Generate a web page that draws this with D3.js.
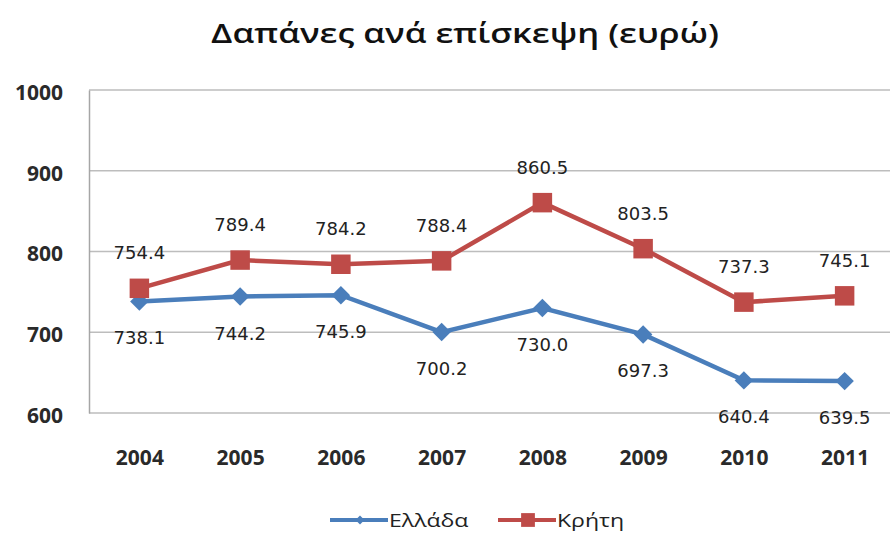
<!DOCTYPE html>
<html>
<head>
<meta charset="utf-8">
<script src="https://cdn.jsdelivr.net/npm/d3@7"></script>
<style>
  body { margin: 0; background: #fff; }
  svg { display: block; }
</style>
</head>
<body>
<svg width="890" height="536"></svg>
<script>
// chart data
var years = ["2004", "2005", "2006", "2007", "2008", "2009", "2010", "2011"]
var greece = [738.1, 744.2, 745.9, 700.2, 730.0, 697.3, 640.4, 639.5]
var crete = [754.4, 789.4, 784.2, 788.4, 860.5, 803.5, 737.3, 745.1]
var yTicks = [600, 700, 800, 900, 1000]
var seriesNames = ["Ελλάδα", "Κρήτη"]

var svg = d3.select("svg"),
    width = +svg.attr("width"),
    height = +svg.attr("height")

var margin = {top: 90, left: 89, right: 895, bottom: 413}
// the source picture is a bit wider than tall, text is stretched to match
var stretch = 1.28

var x = d3.scalePoint()
    .domain(years)
    .range([margin.left, margin.right])
    .padding(0.5)

var y = d3.scaleLinear()
    .domain([600, 1000])
    .range([margin.bottom, margin.top])

var colors = d3.scaleOrdinal()
    .domain(seriesNames)
    .range(["#4a7ebb", "#be4b48"])

// diamond as a rotated square (area = size)
var diamond = {
  draw: function(context, size) {
    var r = Math.sqrt(size / 2)
    context.moveTo(0, -r)
    context.lineTo(r, 0)
    context.lineTo(0, r)
    context.lineTo(-r, 0)
    context.closePath()
  }
}

function stretchText(sel) {
  sel.each(function() {
    var len = this.getComputedTextLength()
    d3.select(this)
      .attr("textLength", len * stretch)
      .attr("lengthAdjust", "spacingAndGlyphs")
  })
}

// title
svg.append("text")
    .attr("x", 465)
    .attr("y", 43)
    .attr("text-anchor", "middle")
    .style("font-family", "'Open Sans', 'Noto Sans', sans-serif")
    .style("font-size", "27px")
    .style("font-weight", "600")
    .style("fill", "#111")
    .text("Δαπάνες ανά επίσκεψη (ευρώ)")
    .call(stretchText)

// gridlines
svg.append("g")
    .selectAll("line")
    .data(yTicks)
    .enter()
    .append("line")
    .attr("x1", margin.left)
    .attr("x2", margin.right)
    .attr("y1", function(d) { return y(d) })
    .attr("y2", function(d) { return y(d) })
    .attr("stroke", "#bdbdbd")
    .attr("stroke-width", 1.5)

// y axis
var yAxis = svg.append("g")
    .attr("transform", "translate(" + margin.left + ",0)")
    .call(d3.axisLeft(y).tickValues(yTicks).tickFormat(d3.format("d")).tickSize(0).tickPadding(26))
yAxis.select(".domain").attr("stroke", "#a6a6a6").attr("stroke-width", 1.5)
yAxis.selectAll("text")
    .attr("dy", "0.45em")
    .style("font-family", "'Open Sans', sans-serif")
    .style("font-size", "21px")
    .style("font-weight", "bold")
    .style("fill", "#2a2a2a")

// x axis
var xAxis = svg.append("g")
    .attr("transform", "translate(0," + margin.bottom + ")")
    .call(d3.axisBottom(x).tickSize(0).tickPadding(37))
xAxis.select(".domain").remove()
xAxis.selectAll("text")
    .style("font-family", "'Open Sans', sans-serif")
    .style("font-size", "21px")
    .style("font-weight", "bold")
    .style("fill", "#2a2a2a")

var series = [
  {name: seriesNames[0], values: greece, marker: diamond, size: 170, legendSize: 40, labelDy: 43},
  {name: seriesNames[1], values: crete, marker: d3.symbolSquare, size: 380, legendSize: 190, labelDy: -29}
]

var line = d3.line()
    .x(function(d, i) { return x(years[i]) })
    .y(function(d) { return y(d) })

series.forEach(function(s) {
  var g = svg.append("g")
  g.append("path")
      .datum(s.values)
      .attr("fill", "none")
      .attr("stroke", colors(s.name))
      .attr("stroke-width", 4.5)
      .attr("d", line)

  g.selectAll(".marker")
      .data(s.values)
      .enter()
      .append("path")
      .attr("class", "marker")
      .attr("transform", function(d, i) { return "translate(" + x(years[i]) + "," + y(d) + ")" })
      .attr("d", d3.symbol().type(s.marker).size(s.size))
      .attr("fill", colors(s.name))

  g.selectAll(".lbl")
      .data(s.values)
      .enter()
      .append("text")
      .attr("class", "lbl")
      .attr("x", function(d, i) { return x(years[i]) })
      .attr("y", function(d) { return y(d) + s.labelDy })
      .attr("text-anchor", "middle")
      .style("font-family", "'DejaVu Sans', Verdana, sans-serif")
      .style("font-size", "18px")
      .style("fill", "#222")
      .text(function(d) { return d.toFixed(1) })
})

// legend
var legend = svg.append("g")
var legendX = [330, 498]
series.forEach(function(s, i) {
  var lx = legendX[i], ly = 520
  legend.append("line")
      .attr("x1", lx)
      .attr("x2", lx + 58)
      .attr("y1", ly)
      .attr("y2", ly)
      .attr("stroke", colors(s.name))
      .attr("stroke-width", 4)
  legend.append("path")
      .attr("transform", "translate(" + (lx + 30) + "," + ly + ")")
      .attr("d", d3.symbol().type(s.marker).size(s.legendSize))
      .attr("fill", colors(s.name))
  legend.append("text")
      .attr("x", lx + 59)
      .attr("y", ly + 7)
      .style("font-family", "'Open Sans', 'Noto Sans', sans-serif")
      .style("font-size", "18px")
      .style("fill", "#222")
      .text(s.name)
      .call(stretchText)
})
</script>
</body>
</html>
